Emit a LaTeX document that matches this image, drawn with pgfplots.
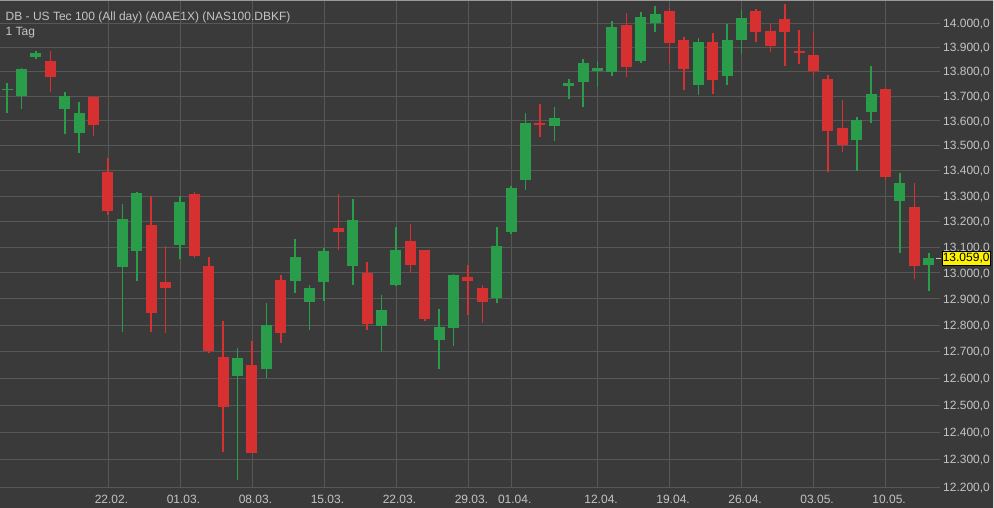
\documentclass[border=0pt]{standalone}
\usepackage{pgfplots}
\pgfplotsset{compat=1.18}
\usepackage{pgfplotstable}
\usepackage{fontspec}
\setmainfont{Liberation Sans}
\definecolor{bg}{HTML}{3A3A3A}
\definecolor{gridc}{HTML}{575757}
\definecolor{lbl}{HTML}{C4C4C4}
\definecolor{cgreen}{HTML}{2A9D4B}
\definecolor{cred}{HTML}{D63031}

\pgfplotstableread{
x o h l c
-7 13724 13752 13631 13730
-6 13701 13813 13647 13809
-5 13859 13886 13851 13875
-4 13843 13886 13718 13777
-3 13647 13718 13548 13698
-2 13550 13674 13471 13633
-1 13695 13702 13537 13584
0 13393 13452 13226 13239
1 13022 13266 12776 13211
2 13083 13317 12970 13313
3 13185 13301 12776 12847
4 12964 13102 12772 12941
5 13109 13299 13052 13275
6 13307 13315 13059 13065
7 13027 13061 12695 12701
8 12680 12814 12327 12492
9 12609 12714 12224 12677
10 12648 12739 12323 12325
11 12634 12886 12602 12801
12 12974 12993 12732 12770
13 12970 13131 12922 13061
14 12888 12954 12780 12942
15 12963 13096 12892 13086
16 13175 13307 13090 13157
17 13026 13288 12955 13205
18 12999 13043 12782 12805
19 12797 12913 12701 12857
20 12955 13176 12950 13087
21 13125 13191 12998 13030
22 13087 13090 12814 12824
23 12745 12863 12634 12792
24 12789 12995 12720 12993
25 12983 13030 12839 12968
26 12942 12955 12807 12888
27 12902 13179 12883 13105
28 13159 13341 13149 13332
29 13362 13631 13324 13592
30 13592 13668 13534 13582
31 13580 13657 13518 13610
32 13741 13768 13689 13754
33 13756 13851 13655 13834
34 13800 13843 13736 13815
35 13798 14008 13781 13982
36 13992 14043 13778 13820
37 13843 14047 13836 14024
38 13999 14071 13961 14037
39 14051 14061 13830 13916
40 13930 13943 13725 13809
41 13747 13937 13704 13923
42 13923 13960 13708 13765
43 13783 13996 13745 13930
44 13930 14054 13872 14020
45 14051 14057 13920 13961
46 13968 13996 13882 13906
47 14017 14079 13822 13964
48 13886 13971 13830 13875
49 13868 13964 13776 13803
50 13768 13785 13393 13557
51 13571 13682 13475 13504
52 13522 13615 13399 13601
53 13637 13822 13592 13708
54 13728 13736 13363 13373
55 13278 13390 13077 13352
56 13256 13350 12976 13027
57 13030 13077 12930 13059
}\candles

\tikzset{lblfont/.style={font=\fontsize{12}{14}\selectfont}}

\begin{document}
\begin{tikzpicture}
\useasboundingbox (0,0) rectangle (994pt,508pt);
\fill[bg] (0,0) rectangle (994pt,508pt);
\pgfplotstablegetrowsof{\candles}
\pgfmathtruncatemacro{\lastrow}{\pgfplotsretval-1}
\begin{axis}[
  at={(0pt,21pt)}, anchor=south west,
  scale only axis, width=940pt, height=487pt,
  xmin=-7.5, xmax=57.78,
  y coord trafo/.code={\begingroup\pgfkeys{/pgf/fpu=true,/pgf/fpu/output format=fixed}\pgfmathparse{ln((#1)/13000)}\global\let\mytrafores\pgfmathresult\endgroup\let\pgfmathresult\mytrafores},
  ymin=12200, ymax=14096,
  axis line style={draw=none},
  tick style={draw=none},
  xtick={0,5,10,15,20,25,28,34,39,44,49,54},
  xticklabels={22.02.,01.03.,08.03.,15.03.,22.03.,29.03.,01.04.,12.04.,19.04.,26.04.,03.05.,10.05.},
  ytick={12200,12300,12400,12500,12600,12700,12800,12900,13000,13100,13200,13300,13400,13500,13600,13700,13800,13900,14000},
  yticklabels={{12.200,0},{12.300,0},{12.400,0},{12.500,0},{12.600,0},{12.700,0},{12.800,0},{12.900,0},{13.000,0},{13.100,0},{13.200,0},{13.300,0},{13.400,0},{13.500,0},{13.600,0},{13.700,0},{13.800,0},{13.900,0},{14.000,0}},
  yticklabel pos=right,
  xmajorgrids, ymajorgrids,
  grid style={draw=gridc, line width=0.8pt},
  yticklabel style={anchor=base west, inner sep=0pt, xshift=3pt, yshift=-4.3pt, text=lbl, lblfont},
  xticklabel style={anchor=base, inner sep=0pt, yshift=-17pt, xshift=3.5pt, text=lbl, lblfont},
  clip mode=individual,
]
\pgfplotsforeachungrouped \k in {0,...,\lastrow}{%
  \pgfplotstablegetelem{\k}{x}\of\candles \let\cx\pgfplotsretval
  \pgfplotstablegetelem{\k}{o}\of\candles \let\co\pgfplotsretval
  \pgfplotstablegetelem{\k}{h}\of\candles \let\ch\pgfplotsretval
  \pgfplotstablegetelem{\k}{l}\of\candles \let\cl\pgfplotsretval
  \pgfplotstablegetelem{\k}{c}\of\candles \let\cc\pgfplotsretval
  \pgfmathtruncatemacro{\up}{\cc>\co}%
  \ifnum\up=1 \def\col{cgreen}\else\def\col{cred}\fi
  \edef\temp{%
    \noexpand\addplot[draw=\col, line width=1.5pt, forget plot] coordinates {(\cx,\cl) (\cx,\ch)};
    \noexpand\addplot[draw=\col, line width=11pt, line cap=butt, forget plot] coordinates {(\cx,\co) (\cx,\cc)};
  }\temp
}
\end{axis}
\node[anchor=base west, inner sep=0pt, text=lbl, lblfont] at (5.5pt,487pt) {DB - US Tec 100 (All day) (A0AE1X) (NAS100.DBKF)};
\node[anchor=base west, inner sep=0pt, text=lbl, lblfont] at (5.5pt,472pt) {1 Tag};
\draw[lbl, line width=0.8pt] (936pt,249.7pt) -- (940.5pt,249.7pt);
\node[anchor=west, fill=yellow, draw=black, line width=0.6pt, text=black, inner xsep=1pt, inner ysep=0pt, minimum height=13.5pt, lblfont] at (941.5pt,249.7pt) {13.059,0};
\draw[gray!80!white, line width=1pt] (0,507.5pt) -- (994pt,507.5pt);
\draw[white!85!black, line width=1.2pt] (993.4pt,0) -- (993.4pt,508pt);
\end{tikzpicture}
\end{document}
